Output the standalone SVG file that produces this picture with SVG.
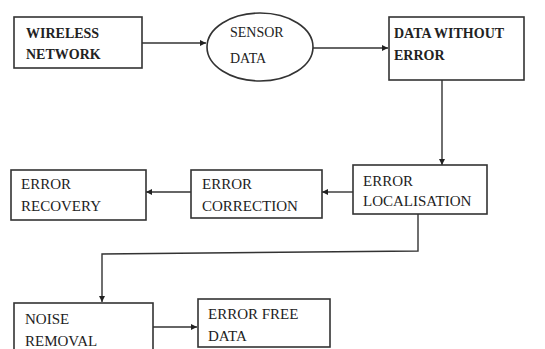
<svg xmlns="http://www.w3.org/2000/svg" width="545" height="349" viewBox="0 0 545 349">
<style>
.box{fill:#fff;stroke:#333;stroke-width:1.6}
.t{font-family:'Liberation Serif','Times New Roman',Times,serif;font-size:15px;fill:#222}
.b{font-weight:bold;font-size:14px}
.s{font-size:14px}
.c{fill:none;stroke:#333;stroke-width:1.4}
</style>
<defs>
<marker id="ah" viewBox="0 0 10 10" refX="10" refY="5" markerWidth="6" markerHeight="6" orient="auto" markerUnits="userSpaceOnUse">
<path d="M0,0 L10,5 L0,10 z" fill="#222"/>
</marker>
</defs>
<rect width="545" height="349" fill="#fff"/>
<g id="connectors">
<line class="c" x1="142" y1="43" x2="206" y2="43" marker-end="url(#ah)"/>
<line class="c" x1="313" y1="48" x2="388" y2="48" marker-end="url(#ah)"/>
<line class="c" x1="442" y1="80" x2="442" y2="165" marker-end="url(#ah)"/>
<line class="c" x1="353" y1="192" x2="322" y2="192" marker-end="url(#ah)"/>
<line class="c" x1="191" y1="192" x2="146" y2="192" marker-end="url(#ah)"/>
<polyline class="c" points="418,214 418,251 102,254 102,302" marker-end="url(#ah)"/>
<line class="c" x1="153" y1="327" x2="197" y2="327" marker-end="url(#ah)"/>
</g>
<g id="wireless-network">
<rect class="box" x="14" y="17" width="128" height="51"/>
<text class="t b" x="26" y="38">WIRELESS</text>
<text class="t b" x="26" y="59">NETWORK</text>
</g>
<g id="sensor-data">
<ellipse class="box" cx="260" cy="47" rx="53" ry="34"/>
<text class="t s" x="230" y="37">SENSOR</text>
<text class="t s" x="230" y="63">DATA</text>
</g>
<g id="data-without-error">
<rect class="box" x="389" y="17" width="135" height="63"/>
<text class="t b" x="394" y="38">DATA WITHOUT</text>
<text class="t b" x="394" y="60">ERROR</text>
</g>
<g id="error-localisation">
<rect class="box" x="353" y="165" width="134" height="49"/>
<text class="t" x="363" y="186">ERROR</text>
<text class="t" x="363" y="206">LOCALISATION</text>
</g>
<g id="error-correction">
<rect class="box" x="191" y="170" width="131" height="48"/>
<text class="t" x="202" y="189">ERROR</text>
<text class="t" x="202" y="211">CORRECTION</text>
</g>
<g id="error-recovery">
<rect class="box" x="11" y="170" width="135" height="50"/>
<text class="t" x="21" y="189">ERROR</text>
<text class="t" x="21" y="211">RECOVERY</text>
</g>
<g id="noise-removal">
<rect class="box" x="14" y="303" width="139" height="60"/>
<text class="t" x="25" y="324">NOISE</text>
<text class="t" x="25" y="346">REMOVAL</text>
</g>
<g id="error-free-data">
<rect class="box" x="198" y="299" width="132" height="48"/>
<text class="t" x="208" y="319">ERROR FREE</text>
<text class="t" x="208" y="341">DATA</text>
</g>
</svg>
